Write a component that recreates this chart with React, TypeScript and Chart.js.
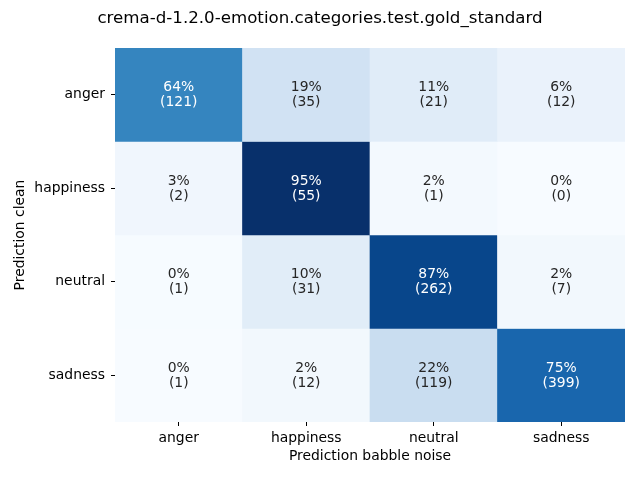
import React, { useEffect, useRef } from "react";
import { Chart, registerables } from "chart.js";

Chart.register(...registerables);

const TITLE = "crema-d-1.2.0-emotion.categories.test.gold_standard";
const ROW_LABELS = ["anger", "happiness", "neutral", "sadness"];
const COL_LABELS = ["anger", "happiness", "neutral", "sadness"];
const ROW_ANGER = [121, 35, 21, 12];
const ROW_HAPPINESS = [2, 55, 1, 0];
const ROW_NEUTRAL = [1, 31, 262, 7];
const ROW_SADNESS = [1, 12, 119, 399];
const COUNTS = [ROW_ANGER, ROW_HAPPINESS, ROW_NEUTRAL, ROW_SADNESS];
const X_TITLE = "Prediction babble noise";
const Y_TITLE = "Prediction clean";

const BLUES: [number, number, number][] = [
  [247, 251, 255],
  [222, 235, 247],
  [198, 219, 239],
  [158, 202, 225],
  [107, 174, 214],
  [66, 146, 198],
  [33, 113, 181],
  [8, 81, 156],
  [8, 48, 107],
];

function blues(t: number): [number, number, number] {
  const v = Math.max(0, Math.min(1, t)) * (BLUES.length - 1);
  const i = Math.min(BLUES.length - 2, Math.floor(v));
  const f = v - i;
  const a = BLUES[i];
  const b = BLUES[i + 1];
  return [0, 1, 2].map((k) => Math.round(a[k] + (b[k] - a[k]) * f)) as [number, number, number];
}

function lum(c: [number, number, number]) {
  const f = (x: number) => {
    const s = x / 255;
    return s <= 0.03928 ? s / 12.92 : Math.pow((s + 0.055) / 1.055, 2.4);
  };
  return 0.2126 * f(c[0]) + 0.7152 * f(c[1]) + 0.0722 * f(c[2]);
}

const FONT = "'DejaVu Sans', sans-serif";
const FS = 13.9;

export default function App() {
  const ref = useRef<HTMLCanvasElement>(null);
  useEffect(() => {
    if (!ref.current) return;
    const pct = COUNTS.map((row) => {
      const s = row.reduce((a, b) => a + b, 0);
      return row.map((v) => (s ? v / s : 0));
    });
    const vmax = Math.max(...pct.flat());
    const colors = pct.map((row) => row.map((p) => blues(p / vmax)));

    const datasets = ROW_LABELS.map((name, r) => ({
      label: name,
      data: COL_LABELS.map(() => [r, r + 1] as [number, number]),
      backgroundColor: colors[r].map((c) => `rgb(${c[0]},${c[1]},${c[2]})`),
      borderWidth: 0,
      barPercentage: 1,
      categoryPercentage: 1,
      grouped: false,
    }));

    const annot = {
      id: "annot",
      afterDatasetsDraw(chart: any) {
        const ctx = chart.ctx;
        ctx.save();
        ctx.font = `${FS}px ${FONT}`;
        ctx.textAlign = "center";
        ctx.textBaseline = "middle";
        chart.data.datasets.forEach((ds: any, r: number) => {
          const meta = chart.getDatasetMeta(r);
          meta.data.forEach((el: any, c: number) => {
            const cy = (el.y + el.base) / 2 + 0.5;
            const col = colors[r][c];
            ctx.fillStyle = lum(col) < 0.408 ? "#ffffff" : "#262626";
            ctx.fillText(`${Math.round(pct[r][c] * 100)}%`, el.x, cy - 7.5);
            ctx.fillText(`(${COUNTS[r][c]})`, el.x, cy + 7.5);
          });
        });
        ctx.restore();
      },
    };

    const chart = new Chart(ref.current, {
      type: "bar",
      data: { labels: COL_LABELS, datasets: datasets as any },
      plugins: [annot],
      options: {
        animation: false,
        responsive: false,
        maintainAspectRatio: false,
        layout: { padding: { left: 0, right: 0, top: 0, bottom: 0 } },
        plugins: {
          legend: { display: false },
          tooltip: { enabled: false },
          title: {
            display: true,
            text: TITLE,
            color: "#000",
            font: { family: FONT, size: 16.67, weight: "normal", lineHeight: 1.2 },
            padding: { top: 9, bottom: 19 },
          },
        },
        scales: {
          x: {
            type: "category",
            offset: true,
            border: { display: false },
            grid: {
              drawOnChartArea: false,
              drawTicks: true,
              tickLength: 4,
              offset: false,
              color: "#000",
            },
            ticks: { color: "#000", font: { family: FONT, size: FS }, padding: 4, maxRotation: 0 },
            title: {
              display: true,
              text: X_TITLE,
              color: "#000",
              font: { family: FONT, size: FS },
              padding: { top: 4, bottom: 15 },
            },
            afterFit: (s: any) => {
              s.height = 58;
            },
          },
          y: {
            type: "linear",
            min: 0,
            max: 4,
            reverse: true,
            border: { display: false },
            grid: { drawOnChartArea: false, drawTicks: true, tickLength: 4, color: "#000" },
            afterBuildTicks: (s: any) => {
              s.ticks = [0.5, 1.5, 2.5, 3.5].map((v) => ({ value: v }));
            },
            ticks: {
              color: "#000",
              font: { family: FONT, size: FS },
              padding: 6,
              callback: (v: any) => ROW_LABELS[Math.floor(Number(v))] ?? "",
            },
            title: {
              display: true,
              text: Y_TITLE,
              color: "#000",
              font: { family: FONT, size: FS },
              padding: { top: 12, bottom: 4 },
            },
            afterFit: (s: any) => {
              s.width = 115;
            },
          },
          yRight: {
            type: "linear",
            position: "right",
            display: true,
            border: { display: false },
            grid: { display: false, drawTicks: false },
            ticks: { display: false },
            afterFit: (s: any) => {
              s.width = 15;
            },
          },
        },
      },
    });
    return () => chart.destroy();
  }, []);
  return (
    <div style={{ position: "fixed", left: 0, top: 0, width: 640, height: 480, background: "#fff" }}>
      <canvas ref={ref} width={640} height={480} style={{ width: 640, height: 480 }} />
    </div>
  );
}
